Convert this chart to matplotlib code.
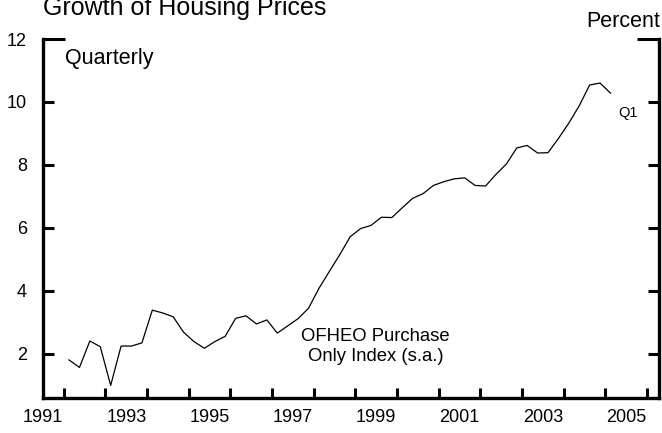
import numpy as np
import matplotlib
matplotlib.use('Agg')
import matplotlib.pyplot as plt
from matplotlib.ticker import FixedLocator, NullFormatter, FixedFormatter

plt.rcParams['font.family'] = ['Liberation Sans', 'DejaVu Sans']

# quarterly growth, 1992Q1 .. 2005Q1
growth = [1.81, 1.57, 2.41, 2.23, 1.00, 2.25, 2.25, 2.35,
          3.39, 3.30, 3.18, 2.69, 2.39, 2.18, 2.39, 2.56,
          3.13, 3.21, 2.95, 3.08, 2.66, 2.89, 3.12, 3.45,
          4.08, 4.62, 5.15, 5.72, 5.98, 6.08, 6.34, 6.33,
          6.64, 6.94, 7.09, 7.35, 7.47, 7.56, 7.59, 7.35,
          7.33, 7.70, 8.03, 8.54, 8.62, 8.38, 8.39, 8.84,
          9.33, 9.88, 10.54, 10.60, 10.28]
start_year = 1992
year_labels = ['1991', '1993', '1995', '1997', '1999', '2001', '2003', '2005']
y_ticks = [2, 4, 6, 8, 10]

t = [start_year + i * 0.25 + 0.125 for i in range(len(growth))]

fig = plt.figure(figsize=(6.62, 4.33), dpi=100)
ax = fig.add_axes([43/662, 35/433, 616/662, 359/433])

ax.plot(t, growth, color='black', lw=0.9)

ax.set_xlim(1991.5, 2006.29)
ax.set_ylim(0.6, 12)

for s in ['left', 'right', 'bottom']:
    ax.spines[s].set_linewidth(2.4)
ax.spines['top'].set_visible(False)

# x: ticks at year starts, labels at mid-year
ax.xaxis.set_major_locator(FixedLocator(range(1992, 2007)))
ax.xaxis.set_major_formatter(NullFormatter())
ax.xaxis.set_minor_locator(FixedLocator([int(y) + 0.5 for y in year_labels]))
ax.xaxis.set_minor_formatter(FixedFormatter(year_labels))
ax.tick_params(axis='x', which='major', direction='in', length=7.5, width=2.2)
ax.tick_params(axis='x', which='minor', length=0, pad=8, labelsize=13)

# y: short ticks, long cap at 12
ax.yaxis.set_major_locator(FixedLocator(y_ticks))
ax.yaxis.set_minor_locator(FixedLocator([12]))
ax.yaxis.set_minor_formatter(FixedFormatter(['12']))
ax.tick_params(axis='y', which='both', direction='in', right=True, width=2.2,
               labelsize=13, pad=11.5)
ax.tick_params(axis='y', which='major', length=8)
ax.tick_params(axis='y', which='minor', length=16)

ax.text(1992.03, 11.22, 'Quarterly', fontsize=15.5, va='baseline')
ax.text(1999.49, 1.76, 'OFHEO Purchase\nOnly Index (s.a.)', fontsize=13.3,
        ha='center', va='baseline', linespacing=1.3)
ax.text(2005.31, 9.52, 'Q1', fontsize=10.5, va='baseline')

fig.text(43/662, 1 - 15/433, 'Growth of Housing Prices', fontsize=18, va='baseline')
fig.text(660/662, 1 - 27/433, 'Percent', fontsize=15.5, ha='right', va='baseline')

fig.savefig('out.png', dpi=100)
